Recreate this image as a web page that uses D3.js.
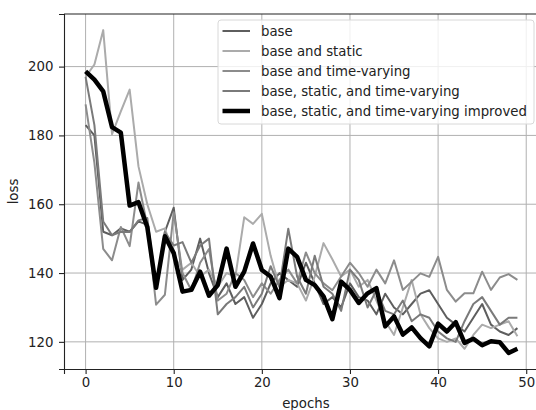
<!DOCTYPE html>
<html>
<head>
<meta charset="utf-8">
<script src="https://cdn.jsdelivr.net/npm/d3@7"></script>
<style>
  body { margin: 0; background: #fff; }
  text { font-family: "DejaVu Sans", sans-serif; }
</style>
</head>
<body>
<svg id="chart"></svg>
<script>
const epochs = d3.range(0, 50);

const seriesNames = [
  "base",
  "base and static",
  "base and time-varying",
  "base, static, and time-varying",
  "base, static, and time-varying improved"
];

const base = [183, 180, 152, 151, 153, 152, 155, 154, 136, 152, 159, 138, 141, 150, 140, 133, 137, 131, 133, 127, 131,
  137, 140, 138, 136, 143, 137, 131, 133, 130, 137, 133, 132, 128, 134, 130, 128, 131, 134, 135, 131, 127, 125, 123,
  127, 131, 125, 123, 122, 124];
const baseStatic = [197, 200.6, 210.6, 180.4, 187, 193.3, 171, 160, 152, 153, 145, 141, 143, 139, 141, 136, 140, 139,
  156.2, 154.3, 157.2, 145, 136, 138, 137, 132, 139, 148.7, 144, 139, 141, 136, 138, 132, 126, 122, 130, 138, 128,
  124, 121, 120, 121, 118, 122, 125, 124, 125, 126, 121.6];
const baseTimeVarying = [189, 172, 147, 143.7, 153.4, 147.8, 166.3, 153.8, 130.8, 133.7, 157.7, 140, 135, 143, 147,
  132, 134, 140, 138, 133, 137, 134, 138, 141, 137, 146, 140, 137, 135, 139, 143, 140, 136, 141, 137, 143.7, 135.1,
  137.5, 139.9, 138.9, 144.7, 135.1, 131.7, 134.1, 134.1, 140.4, 135.1, 138.7, 139.7, 138];
const baseStaticTimeVarying = [197, 183, 155, 151, 152, 151.9, 155.3, 156, 136, 151.9, 148, 149, 143, 148, 150, 128,
  131, 133, 136, 130, 134, 142, 136, 152.9, 139, 134, 145, 136, 134, 129, 141, 138, 130, 135, 129, 128, 132, 126,
  128, 127, 123, 121, 120, 126, 131, 133, 129, 125, 127, 127];
const improved = [198.6, 196.2, 192.8, 182.4, 180.8, 159.6, 160.6, 153.4, 135.7, 150.7, 145.8, 134.6, 135.1, 140.4,
  133.4, 136.5, 147.1, 136, 140.4, 148.6, 140.9, 139, 132.7, 147.1, 144.7, 138, 136.5, 133.2, 126.6, 137.5, 135.1,
  131.3, 134.1, 135.6, 124.5, 127.4, 122.1, 124.2, 121.1, 118.7, 125.3, 123, 125.7, 119.7, 120.9, 119, 120.2, 119.9,
  116.8, 118];

const xTicks = [0, 10, 20, 30, 40, 50];
const yTicks = [120, 140, 160, 180, 200];

const seriesValues = [base, baseStatic, baseTimeVarying, baseStaticTimeVarying, improved];
const colors = ["#5e5e5e", "#ababab", "#8c8c8c", "#7a7a7a", "#000000"];
const widths = [2, 2, 2, 2, 4.5];

const width = 536;
const height = 410;
const margin = { top: 14, right: -3, bottom: 41, left: 64 };
const innerW = width - margin.left - margin.right;
const innerH = height - margin.top - margin.bottom;
const fontSize = 13.3;

const svg = d3.select("#chart").attr("width", width).attr("height", height);
const g = svg.append("g").attr("transform", `translate(${margin.left}, ${margin.top})`);

const allValues = seriesValues.flat();
const yMin = d3.min(allValues), yMax = d3.max(allValues);
const yPad = (yMax - yMin) * 0.05;
const xPad = 49 * 0.05;

const x = d3.scaleLinear().domain([-xPad, 49 + xPad]).range([0, innerW]);
const y = d3.scaleLinear().domain([yMin - yPad, yMax + yPad]).range([innerH, 0]);

// grid
g.append("g")
  .selectAll("line")
  .data(xTicks)
  .join("line")
  .attr("x1", (d) => x(d)).attr("x2", (d) => x(d))
  .attr("y1", 0).attr("y2", innerH)
  .attr("stroke", "#b0b0b0").attr("stroke-width", 1);

g.append("g")
  .selectAll("line")
  .data(yTicks)
  .join("line")
  .attr("x1", 0).attr("x2", innerW)
  .attr("y1", (d) => y(d)).attr("y2", (d) => y(d))
  .attr("stroke", "#b0b0b0").attr("stroke-width", 1);

// lines
const line = d3.line().x((d, i) => x(epochs[i])).y((d) => y(d));

seriesValues.forEach((vals, k) => {
  g.append("path")
    .datum(vals)
    .attr("fill", "none")
    .attr("stroke", colors[k])
    .attr("stroke-width", widths[k])
    .attr("stroke-linejoin", "round")
    .attr("d", line);
});

// axes
const xAxis = g.append("g")
  .attr("transform", `translate(0, ${innerH})`)
  .call(d3.axisBottom(x).tickValues(xTicks).tickSize(5).tickPadding(4));

const yAxis = g.append("g")
  .call(d3.axisLeft(y).tickValues(yTicks).tickSize(5).tickPadding(5.5));

[xAxis, yAxis].forEach((ax) => {
  ax.select(".domain").attr("stroke", "#222").attr("stroke-width", 1.1);
  ax.selectAll(".tick line").attr("stroke", "#222").attr("stroke-width", 1.1);
  ax.selectAll(".tick text").attr("font-size", fontSize).attr("fill", "#222")
    .attr("font-family", "DejaVu Sans");
});

// top and right spines
g.append("line")
  .attr("x1", 0).attr("x2", innerW).attr("y1", 0).attr("y2", 0)
  .attr("stroke", "#222").attr("stroke-width", 1.1);
g.append("line")
  .attr("x1", innerW).attr("x2", innerW).attr("y1", 0).attr("y2", innerH)
  .attr("stroke", "#222").attr("stroke-width", 1.1);

// labels
svg.append("text")
  .attr("x", margin.left + x(25))
  .attr("y", 408)
  .attr("text-anchor", "middle")
  .attr("font-size", fontSize)
  .attr("fill", "#222")
  .text("epochs");

svg.append("text")
  .attr("transform", `translate(18, ${margin.top + innerH / 2}) rotate(-90)`)
  .attr("text-anchor", "middle")
  .attr("font-size", fontSize)
  .attr("fill", "#222")
  .text("loss");

// legend
const legend = svg.append("g").attr("transform", "translate(218, 20)");
legend.append("rect")
  .attr("width", 316).attr("height", 104)
  .attr("rx", 3)
  .attr("fill", "rgba(255,255,255,0.8)")
  .attr("stroke", "#d8d8d8");

const rows = legend.selectAll(".legend")
  .data(seriesNames)
  .join("g")
  .attr("class", "legend")
  .attr("transform", (d, i) => `translate(0, ${11 + i * 20})`);

rows.append("line")
  .attr("x1", 4.5).attr("x2", 32)
  .attr("stroke", (d, i) => colors[i])
  .attr("stroke-width", (d, i) => widths[i]);

rows.append("text")
  .attr("x", 43)
  .attr("y", 4.5)
  .attr("font-size", fontSize)
  .attr("fill", "#222")
  .text((d) => d);
</script>
</body>
</html>
